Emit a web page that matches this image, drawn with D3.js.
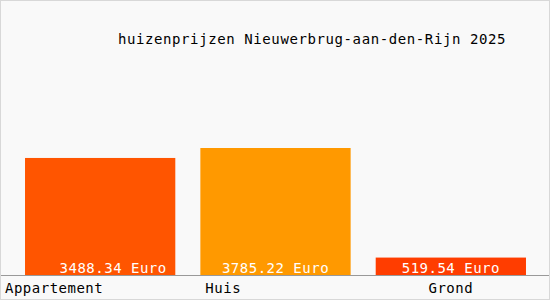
<!DOCTYPE html>
<html>
<head>
<meta charset="utf-8">
<script src="https://cdn.jsdelivr.net/npm/d3@7"></script>
<style>
  body { margin: 0; background: #fff; }
  text { font-family: "DejaVu Sans Mono", monospace; }
</style>
</head>
<body>
<div id="chart"></div>
<script>
// chart data
const categories = ["Appartement", "Huis", "Grond"];
const values = [3488.34, 3785.22, 519.54];
const barColors = ["#ff5500", "#ff9900", "#ff3d00"];
const title = "huizenprijzen Nieuwerbrug-aan-den-Rijn 2025";

const width = 550,
  height = 300,
  baseline = 275;

const svg = d3.select("#chart").append("svg")
  .attr("width", width)
  .attr("height", height);

svg.append("rect")
  .attr("x", 0.5).attr("y", 0.5)
  .attr("width", width - 1).attr("height", height - 1)
  .attr("fill", "#f9f9f9")
  .attr("stroke", "#d8d8d8");

const x = d3.scaleBand()
  .domain(categories)
  .range([12.5, 538.5])
  .paddingInner(0.1429)
  .paddingOuter(0.0714);

const y = d3.scaleLinear()
  .domain([0, d3.max(values)])
  .range([baseline, 148]);

svg.append("text")
  .attr("x", 312)
  .attr("y", 44)
  .attr("text-anchor", "middle")
  .attr("font-size", 14)
  .attr("letter-spacing", 0.6)
  .attr("fill", "#000")
  .text(title);

const bars = svg.append("g");
bars.selectAll("rect")
  .data(values)
  .enter()
  .append("rect")
  .attr("x", (d, i) => x(categories[i]))
  .attr("y", d => y(d))
  .attr("width", x.bandwidth())
  .attr("height", d => baseline - y(d))
  .attr("fill", (d, i) => barColors[i]);

bars.selectAll("text")
  .data(values)
  .enter()
  .append("text")
  .attr("x", (d, i) => x(categories[i]) + x.bandwidth() / 2 + (i === 0 ? 13 : 0))
  .attr("y", baseline - 2)
  .attr("text-anchor", "middle")
  .attr("font-size", 14)
  .attr("letter-spacing", 0.5)
  .attr("fill", "#fff")
  .text(d => d3.format(".2f")(d) + " Euro");

svg.append("line")
  .attr("x1", 1).attr("x2", width - 1)
  .attr("y1", baseline + 0.5).attr("y2", baseline + 0.5)
  .attr("stroke", "#999");

// category labels (first left, second offset, third centred as in the original)
const anchors = ["start", "start", "middle"];
svg.append("g").selectAll("text")
  .data(categories)
  .enter()
  .append("text")
  .attr("x", (d, i) => i === 0 ? 5 : i === 1 ? x(d) + 5 : x(d) + x.bandwidth() / 2)
  .attr("y", 293)
  .attr("text-anchor", (d, i) => anchors[i])
  .attr("font-size", 14)
  .attr("letter-spacing", 0.5)
  .attr("fill", "#000")
  .text(d => d);
</script>
</body>
</html>
